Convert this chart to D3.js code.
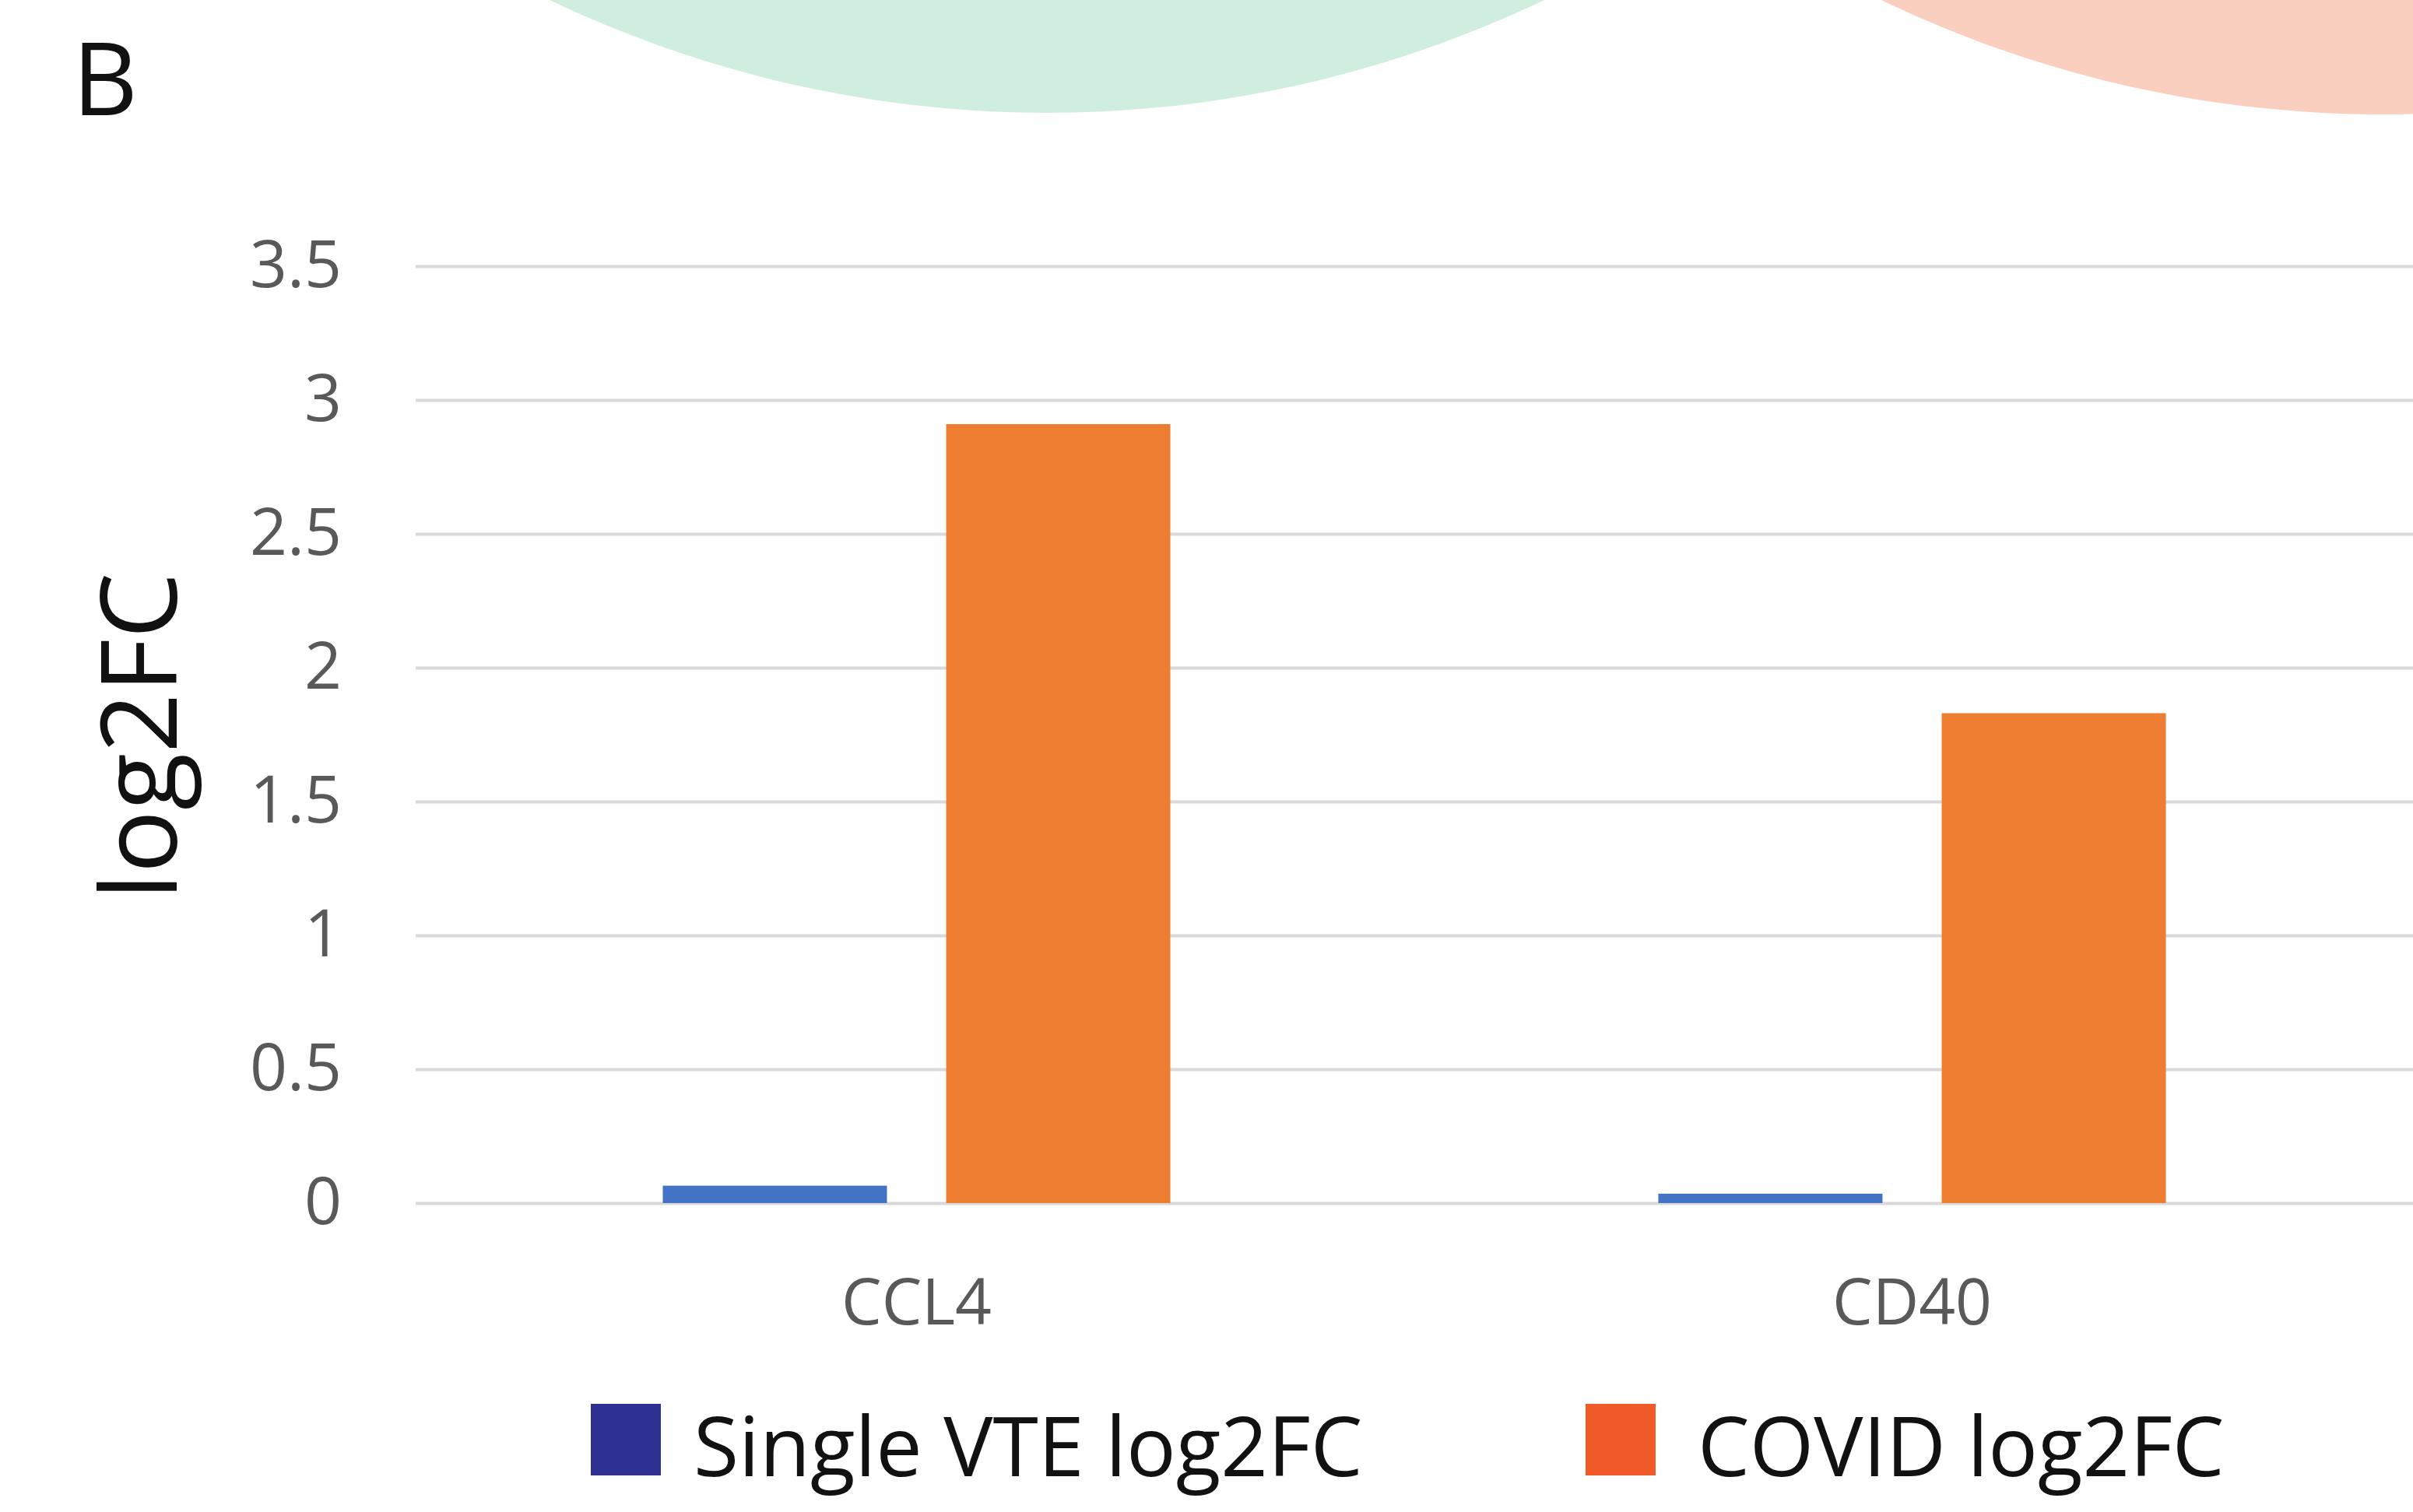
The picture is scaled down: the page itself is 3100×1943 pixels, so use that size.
<!DOCTYPE html>
<html>
<head>
<meta charset="utf-8">
<script src="https://cdn.jsdelivr.net/npm/d3@7"></script>
<style>
  html, body { margin: 0; padding: 0; background: #ffffff; }
  svg { display: block; }
</style>
</head>
<body>
<svg id="chart" width="3100" height="1943"></svg>
<script>
// ---- data ----
const categories = ["CCL4", "CD40"];
const seriesNames = ["Single VTE log2FC", "COVID log2FC"];
const singleVTE = [0.065, 0.035];
const covid = [2.91, 1.83];
const yTicks = [0, 0.5, 1, 1.5, 2, 2.5, 3, 3.5];
const yTickLabels = ["0", "0.5", "1", "1.5", "2", "2.5", "3", "3.5"];
const panelLabel = "B";
const yTitle = "log2FC";

// ---- styles ----
const barColors = ["#4472C4", "#ED7D31"];
const legendColors = ["#2E3192", "#F15A29"];
const venn = [
  { cx: 1345, cy: -1335, r: 1480, fill: "#CFEEDD" },
  { cx: 3060, cy: -1333, r: 1480, fill: "#FBCFC0" }
];

const svg = d3.select("#chart");
const W = 3100, H = 1943;
const plot = { left: 538, right: 3096, top: 342, bottom: 1546 };

// background venn circle remnants
svg.append("g").selectAll("circle").data(venn).join("circle")
  .attr("cx", d => d.cx).attr("cy", d => d.cy).attr("r", d => d.r)
  .attr("fill", d => d.fill);

// panel label
svg.append("text").attr("x", 93).attr("y", 148)
  .attr("font-family", "'Open Sans', sans-serif").attr("font-size", 130)
  .attr("fill", "#111").text(panelLabel);

// scales
const y = d3.scaleLinear().domain([0, 3.5]).range([plot.bottom, plot.top]);
const x = d3.scaleBand().domain(categories).range([plot.left, plot.right]).padding(0);
const inner = d3.scaleBand().domain(seriesNames).range([0, x.bandwidth()])
  .paddingInner(0.209).paddingOuter(0.861);

// y axis with gridlines
const gridLeft = 534;
const yAxis = d3.axisLeft(y).tickValues(yTicks)
  .tickFormat((d, i) => yTickLabels[i])
  .tickSize(-(W - gridLeft)).tickPadding(95);
const gy = svg.append("g").attr("transform", `translate(${gridLeft},0)`).call(yAxis);
gy.select(".domain").remove();
gy.selectAll(".tick line").attr("stroke", "#D9D9D9").attr("stroke-width", 4);
gy.selectAll(".tick text")
  .attr("font-family", "'Open Sans', sans-serif").attr("font-size", 84)
  .attr("font-weight", 500)
  .attr("fill", "#595959");

// bars
const rows = categories.map((c, i) => ({ cat: c, vals: [singleVTE[i], covid[i]] }));
const groups = svg.append("g").selectAll("g").data(rows).join("g")
  .attr("transform", d => `translate(${x(d.cat)},0)`);
groups.selectAll("rect").data(d => d.vals.map((v, j) => ({ v, s: seriesNames[j], j })))
  .join("rect")
  .attr("x", d => inner(d.s))
  .attr("width", inner.bandwidth())
  .attr("y", d => y(d.v))
  .attr("height", d => y(0) - y(d.v))
  .attr("fill", d => barColors[d.j]);

// x axis labels
const xAxis = d3.axisBottom(x).tickSize(0).tickPadding(0);
const gx = svg.append("g").attr("transform", `translate(0,${plot.bottom})`).call(xAxis);
gx.select(".domain").remove();
gx.selectAll(".tick text")
  .attr("font-family", "'Open Sans', sans-serif").attr("font-size", 82)
  .attr("font-weight", 500)
  .attr("fill", "#595959").attr("dy", null).attr("y", 156);

// y title
svg.append("text")
  .attr("transform", `translate(227,946) rotate(-90)`)
  .attr("text-anchor", "middle")
  .attr("font-family", "'Open Sans', sans-serif").attr("font-size", 135)
  .attr("fill", "#111").text(yTitle);

// legend
const legendItems = [
  { rx: 759, tx: 891 },
  { rx: 2037, tx: 2181 }
];
const lg = svg.append("g").selectAll("g").data(seriesNames).join("g");
lg.append("rect")
  .attr("x", (d, i) => legendItems[i].rx).attr("y", 1804)
  .attr("width", 90).attr("height", 92)
  .attr("fill", (d, i) => legendColors[i]);
lg.append("text")
  .attr("x", (d, i) => legendItems[i].tx).attr("y", 1897)
  .attr("font-family", "'Open Sans', sans-serif").attr("font-size", 106)
  .attr("fill", "#111").text(d => d);
</script>
</body>
</html>
